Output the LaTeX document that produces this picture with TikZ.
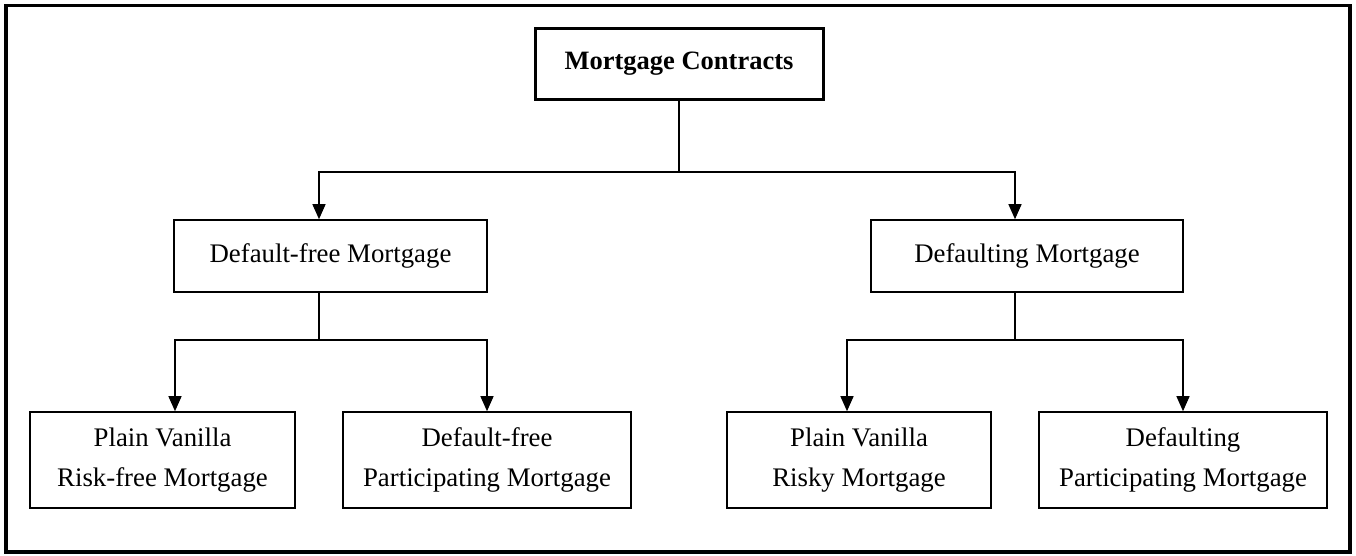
\documentclass[tikz,border=0pt]{standalone}
\usepackage{fontspec}
\setmainfont{Liberation Serif}
\usetikzlibrary{arrows.meta}
\begin{document}
\begin{tikzpicture}[x=1pt,y=-1pt,
  box/.style={draw, line width=1.6pt, inner sep=0pt, align=center,
    font={\fontsize{26.8}{40}\selectfont}},
  topbox/.style={box, line width=3pt, font={\fontsize{26.5}{32}\selectfont\bfseries}},
  conn/.style={line width=1.3pt},
  arr/.style={conn, -{Triangle[width=13pt,length=15pt]}}]
\useasboundingbox (0,0) rectangle (1356,555);
\draw[line width=3.5pt] (6,5.5) rectangle (1350,552);

\node[topbox, minimum width=288pt, minimum height=71pt] (top) at (679,63.5) {Mortgage Contracts};
\node[box, minimum width=313pt, minimum height=72pt] (df) at (330.5,256) {Default-free Mortgage};
\node[box, minimum width=312pt, minimum height=72pt] (dg) at (1027,256) {Defaulting Mortgage};
\node[box, minimum width=265pt, minimum height=96pt] (b1) at (162.5,460) {Plain Vanilla\\Risk-free Mortgage};
\node[box, minimum width=288pt, minimum height=96pt] (b2) at (487,460) {Default-free\\Participating Mortgage};
\node[box, minimum width=264pt, minimum height=96pt] (b3) at (859,460) {Plain Vanilla\\Risky Mortgage};
\node[box, minimum width=288pt, minimum height=96pt] (b4) at (1183,460) {Defaulting\\Participating Mortgage};

\coordinate (j1) at (679,172);
\coordinate (j2) at (319,340);
\coordinate (j3) at (1015,340);

\draw[conn] (top.south) -- (j1);
\draw[arr] (j1) -| ([xshift=-11.5pt]df.north);
\draw[arr] (j1) -| ([xshift=-12pt]dg.north);

\draw[conn] ([xshift=-11.5pt]df.south) -- (j2);
\draw[arr] (j2) -| ([xshift=12.5pt]b1.north);
\draw[arr] (j2) -| (b2.north);

\draw[conn] ([xshift=-12pt]dg.south) -- (j3);
\draw[arr] (j3) -| ([xshift=-12pt]b3.north);
\draw[arr] (j3) -| (b4.north);
\end{tikzpicture}
\end{document}
